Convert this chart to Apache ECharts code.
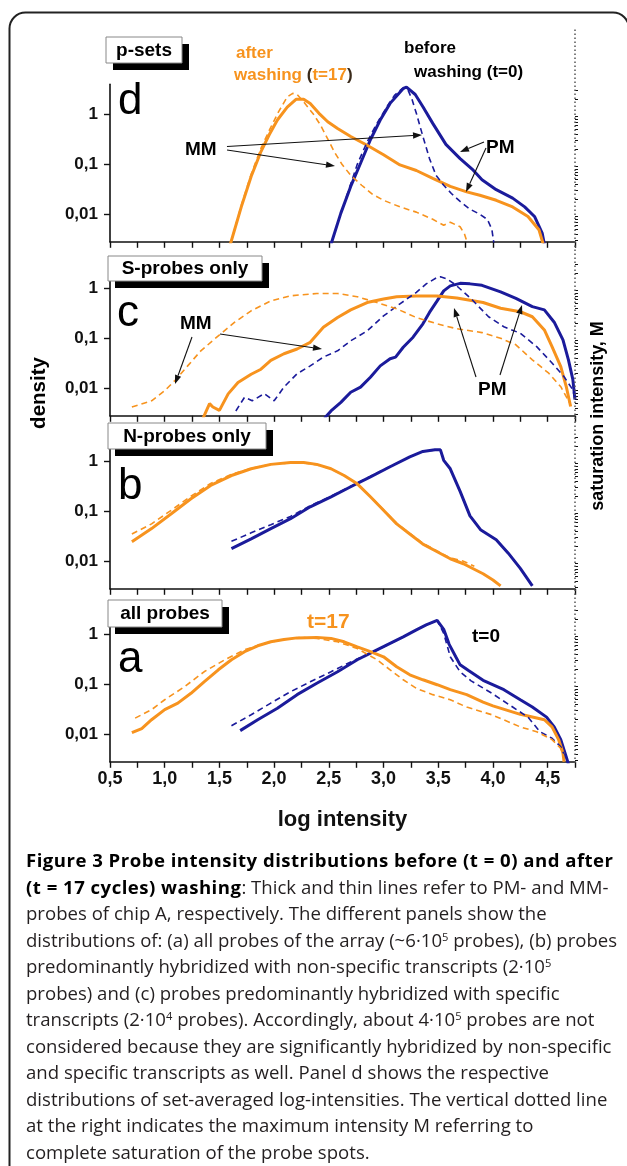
<!DOCTYPE html>
<html><head><meta charset="utf-8">
<script src="https://cdn.jsdelivr.net/npm/echarts@6/dist/echarts.min.js"></script>
<style>
html,body{margin:0;padding:0;background:#fff;}
#chart{position:absolute;left:0;top:0;width:627px;height:1166px;}
#cap{position:absolute;left:26px;top:847px;font-family:'Open Sans',sans-serif;font-size:17.5px;line-height:26.5px;color:#231f20;white-space:nowrap;transform:scaleX(1.062);transform-origin:0 0;}
#cap b{font-weight:700;color:#000;letter-spacing:0.45px;}
#cap sup{font-size:10.5px;line-height:0;vertical-align:6px;}
</style></head><body>
<div id="chart"></div>
<div id="cap"><b>Figure 3 Probe intensity distributions before (t = 0) and after</b><br><b>(t = 17 cycles) washing</b>: Thick and thin lines refer to PM- and MM-<br>probes of chip A, respectively. The different panels show the<br>distributions of: (a) all probes of the array (~6·10<sup>5</sup> probes), (b) probes<br>predominantly hybridized with non-specific transcripts (2·10<sup>5</sup><br>probes) and (c) probes predominantly hybridized with specific<br>transcripts (2·10<sup>4</sup> probes). Accordingly, about 4·10<sup>5</sup> probes are not<br>considered because they are significantly hybridized by non-specific<br>and specific transcripts as well. Panel d shows the respective<br>distributions of set-averaged log-intensities. The vertical dotted line<br>at the right indicates the maximum intensity M referring to<br>complete saturation of the probe spots.</div>
<script>
// ---------- data: [log intensity, density] ----------
const panelTitles = ['p-sets', 'S-probes only', 'N-probes only', 'all probes'];
const panelLetters = ['d', 'c', 'b', 'a'];
const xRange = [0.5, 4.75];          // M = saturation intensity at right end
const yRange = [0.0028, 4.0];        // density range (log axis)
const yTickValues = [0.01, 0.1, 1];
const yTickLabels = ['0,01', '0,1', '1'];

// panel d : p-sets
const d_PM_t0 = [[2.52,0.0025],[2.61,0.0105],[2.70,0.036],[2.79,0.105],[2.88,0.31],[2.97,0.77],[3.06,1.66],[3.14,2.63],[3.18,3.3],[3.21,3.5],[3.29,2.5],[3.36,1.42],[3.45,0.66],[3.57,0.25],[3.70,0.13],[3.82,0.076],[3.90,0.049],[4.03,0.031],[4.18,0.021],[4.29,0.014],[4.38,0.009],[4.45,0.0042],[4.47,0.0025]];
const d_MM_t0 = [[2.66,0.022],[2.76,0.1],[2.85,0.28],[2.94,0.66],[3.03,1.41],[3.10,2.4],[3.17,3.3],[3.22,3.2],[3.26,2.0],[3.30,1.05],[3.36,0.36],[3.42,0.13],[3.48,0.06],[3.55,0.038],[3.62,0.026],[3.70,0.018],[3.79,0.0126],[3.88,0.01],[3.95,0.0078],[3.99,0.005],[4.01,0.0025]];
const d_PM_t17 = [[1.60,0.0025],[1.70,0.014],[1.79,0.057],[1.88,0.18],[1.955,0.39],[2.03,0.77],[2.12,1.4],[2.20,2.0],[2.27,2.0],[2.33,1.65],[2.41,1.05],[2.49,0.71],[2.58,0.52],[2.70,0.36],[2.85,0.24],[3.00,0.155],[3.15,0.097],[3.30,0.075],[3.45,0.052],[3.61,0.036],[3.76,0.028],[3.88,0.024],[4.03,0.019],[4.18,0.014],[4.32,0.009],[4.42,0.0049],[4.46,0.0025]];
const d_MM_t17 = [[1.60,0.0025],[1.70,0.015],[1.79,0.063],[1.88,0.21],[1.96,0.5],[2.04,1.12],[2.12,2.24],[2.17,2.63],[2.21,2.5],[2.27,1.78],[2.36,1.0],[2.42,0.63],[2.48,0.355],[2.55,0.178],[2.62,0.1],[2.70,0.06],[2.80,0.038],[2.90,0.025],[3.00,0.019],[3.15,0.014],[3.30,0.011],[3.45,0.0079],[3.55,0.006],[3.61,0.0069],[3.70,0.0056],[3.74,0.004],[3.77,0.0025]];

// panel c : S-probes only
const c_PM_t0 = [[2.46,0.0025],[2.52,0.0035],[2.61,0.0052],[2.70,0.0083],[2.79,0.0105],[2.88,0.0166],[2.97,0.028],[3.06,0.039],[3.11,0.042],[3.18,0.066],[3.27,0.105],[3.36,0.195],[3.42,0.33],[3.49,0.56],[3.55,0.89],[3.61,1.12],[3.70,1.26],[3.79,1.23],[3.90,1.15],[4.07,0.85],[4.21,0.63],[4.36,0.43],[4.47,0.37],[4.56,0.21],[4.64,0.093],[4.69,0.037],[4.73,0.015],[4.75,0.0059]];
const c_MM_t0 = [[1.65,0.0035],[1.73,0.0066],[1.80,0.0056],[1.91,0.0078],[2.00,0.0056],[2.09,0.0105],[2.21,0.0195],[2.33,0.028],[2.45,0.042],[2.58,0.056],[2.70,0.089],[2.85,0.14],[3.00,0.28],[3.15,0.49],[3.30,0.83],[3.39,1.23],[3.49,1.66],[3.52,1.7],[3.58,1.55],[3.66,1.17],[3.81,0.59],[3.96,0.27],[4.10,0.17],[4.25,0.126],[4.40,0.068],[4.54,0.032],[4.65,0.017],[4.73,0.0093],[4.75,0.0059]];
const c_PM_t17 = [[1.35,0.0025],[1.41,0.0049],[1.44,0.0042],[1.50,0.0036],[1.58,0.0077],[1.67,0.013],[1.79,0.019],[1.88,0.024],[1.97,0.036],[2.09,0.049],[2.21,0.061],[2.33,0.083],[2.45,0.166],[2.58,0.26],[2.70,0.37],[2.85,0.52],[3.00,0.61],[3.12,0.68],[3.30,0.70],[3.49,0.70],[3.67,0.64],[3.91,0.52],[4.07,0.40],[4.25,0.34],[4.36,0.27],[4.47,0.147],[4.54,0.068],[4.62,0.027],[4.67,0.0108],[4.71,0.0043]];
const c_MM_t17 = [[0.70,0.0042],[0.88,0.0056],[1.00,0.0089],[1.09,0.014],[1.21,0.028],[1.33,0.056],[1.49,0.112],[1.64,0.21],[1.79,0.355],[1.97,0.56],[2.15,0.71],[2.39,0.79],[2.58,0.79],[2.76,0.68],[2.94,0.52],[3.12,0.39],[3.30,0.26],[3.49,0.195],[3.67,0.155],[3.90,0.13],[4.07,0.1],[4.21,0.074],[4.36,0.037],[4.51,0.02],[4.62,0.0107],[4.71,0.0047]];

// panel b : N-probes only
const b_PM_t0 = [[1.61,0.0178],[1.79,0.028],[1.97,0.045],[2.15,0.071],[2.33,0.123],[2.52,0.195],[2.70,0.31],[2.88,0.49],[3.06,0.78],[3.24,1.23],[3.36,1.58],[3.47,1.7],[3.52,1.7],[3.55,1.05],[3.61,0.71],[3.70,0.25],[3.79,0.081],[3.89,0.042],[4.03,0.027],[4.14,0.0145],[4.25,0.0072],[4.36,0.0032]];
const b_MM_t0 = [[1.61,0.025],[1.79,0.037],[1.97,0.054],[2.15,0.079],[2.33,0.129],[2.52,0.2],[2.70,0.316],[2.88,0.5],[3.06,0.79],[3.24,1.23],[3.36,1.58],[3.47,1.7],[3.52,1.7],[3.55,1.05],[3.61,0.71],[3.70,0.25],[3.79,0.081],[3.89,0.042],[4.03,0.027],[4.14,0.0145],[4.25,0.0072],[4.36,0.0032]];
const b_PM_t17 = [[0.70,0.0245],[0.88,0.045],[1.06,0.089],[1.24,0.178],[1.42,0.33],[1.61,0.52],[1.79,0.71],[1.97,0.87],[2.15,0.95],[2.27,0.95],[2.39,0.87],[2.52,0.71],[2.64,0.52],[2.76,0.355],[2.88,0.195],[3.00,0.105],[3.12,0.056],[3.24,0.035],[3.36,0.022],[3.49,0.0155],[3.61,0.0112],[3.73,0.0089],[3.91,0.0056],[4.00,0.0042],[4.07,0.0032]];
const b_MM_t17 = [[0.70,0.035],[0.88,0.056],[1.06,0.105],[1.24,0.2],[1.42,0.36],[1.61,0.55],[1.79,0.72],[1.97,0.87],[2.15,0.93],[2.27,0.93],[2.39,0.85],[2.52,0.71],[2.64,0.52],[2.76,0.355],[2.88,0.2],[3.00,0.107],[3.12,0.057],[3.24,0.036],[3.36,0.023],[3.49,0.016],[3.61,0.0117],[3.73,0.01],[3.83,0.0079]];

// panel a : all probes
const a_PM_t0 = [[1.69,0.0118],[1.85,0.0195],[2.03,0.033],[2.21,0.062],[2.39,0.105],[2.58,0.178],[2.76,0.31],[2.94,0.49],[3.06,0.66],[3.18,0.89],[3.30,1.23],[3.39,1.55],[3.49,1.9],[3.50,1.95],[3.55,1.26],[3.60,0.63],[3.66,0.355],[3.70,0.245],[3.78,0.186],[3.91,0.12],[4.10,0.078],[4.25,0.049],[4.36,0.035],[4.49,0.022],[4.56,0.014],[4.62,0.0078],[4.67,0.0035],[4.69,0.0025]];
const a_MM_t0 = [[1.61,0.0148],[1.79,0.0245],[1.97,0.042],[2.15,0.071],[2.33,0.112],[2.52,0.178],[2.70,0.28],[2.88,0.42],[3.00,0.56],[3.18,0.89],[3.30,1.23],[3.39,1.55],[3.49,1.9],[3.55,1.05],[3.61,0.355],[3.70,0.178],[3.80,0.117],[3.99,0.066],[4.18,0.035],[4.32,0.022],[4.43,0.0112],[4.54,0.0083],[4.62,0.0056],[4.66,0.0035]];
const a_PM_t17 = [[0.70,0.0107],[0.79,0.013],[0.88,0.0195],[1.00,0.031],[1.12,0.042],[1.24,0.066],[1.36,0.112],[1.49,0.195],[1.61,0.31],[1.73,0.45],[1.85,0.59],[1.97,0.71],[2.09,0.79],[2.21,0.85],[2.39,0.87],[2.52,0.83],[2.64,0.71],[2.76,0.56],[2.88,0.45],[3.00,0.355],[3.12,0.224],[3.24,0.155],[3.36,0.123],[3.49,0.098],[3.61,0.078],[3.76,0.062],[3.91,0.044],[4.00,0.037],[4.25,0.025],[4.47,0.0195],[4.54,0.014],[4.60,0.0078],[4.64,0.0042],[4.65,0.0028]];
const a_MM_t17 = [[0.73,0.021],[0.88,0.031],[1.00,0.049],[1.18,0.089],[1.36,0.178],[1.55,0.31],[1.73,0.49],[1.91,0.66],[2.09,0.79],[2.24,0.87],[2.39,0.83],[2.58,0.71],[2.76,0.52],[2.94,0.31],[3.06,0.195],[3.18,0.123],[3.30,0.083],[3.45,0.062],[3.61,0.049],[3.76,0.035],[3.99,0.0245],[4.25,0.014],[4.40,0.0112],[4.54,0.0078],[4.62,0.0052],[4.65,0.0035]];

const panelData = [
  [d_PM_t0, d_MM_t0, d_PM_t17, d_MM_t17],
  [c_PM_t0, c_MM_t0, c_PM_t17, c_MM_t17],
  [b_PM_t0, b_MM_t0, b_PM_t17, b_MM_t17],
  [a_PM_t0, a_MM_t0, a_PM_t17, a_MM_t17]
];

// ---------- layout & style ----------
const FONT = '"Liberation Sans", Arial, Helvetica, sans-serif';
const BLUE = '#1b1b9b', ORANGE = '#f7931e', INK = '#111';
const gridTops = [84.3, 258.3, 431.3, 604.3];
const GRID_LEFT = 110, GRID_W = 465, GRID_H = 157.5;
const LOG = v => Math.log10(v);
const yMinL = LOG(yRange[0]), yMaxL = LOG(yRange[1]);
const majorLog = yTickValues.map(LOG);
const minorLog = [];
for (let k = -3; k <= 0; k++) for (let m = 2; m <= 9; m++) {
  const v = Math.log10(m) + k;
  if (v > yMinL && v < yMaxL) minorLog.push(v);
}

const grids = [], xAxes = [], yAxes = [], series = [];
gridTops.forEach((top, i) => {
  grids.push({left: GRID_LEFT, top: top, width: GRID_W, height: GRID_H});
  xAxes.push({
    type: 'value', gridIndex: i, min: xRange[0], max: xRange[1], interval: 0.25,
    axisLine: {show: true, onZero: false, lineStyle: {color: INK, width: 1.6}},
    axisTick: {show: true, inside: false, length: 6, lineStyle: {color: INK, width: 1.4}},
    axisLabel: {show: i === 3, margin: 8, color: INK, fontWeight: 'bold', fontSize: 18, fontFamily: FONT,
      formatter: v => (Math.abs(v * 2 - Math.round(v * 2)) < 1e-6) ? v.toFixed(1).replace('.', ',') : ''},
    splitLine: {show: false},
    name: i === 3 ? 'log intensity' : '', nameLocation: 'middle', nameGap: 47,
    nameTextStyle: {color: INK, fontWeight: 'bold', fontSize: 22, fontFamily: FONT}
  });
  yAxes.push({
    type: 'value', gridIndex: i, min: yMinL, max: yMaxL,
    axisLine: {show: true, onZero: false, lineStyle: {color: INK, width: 1.6}},
    axisTick: {show: true, length: 6, customValues: majorLog, lineStyle: {color: INK, width: 1.4}},
    axisLabel: {show: true, customValues: majorLog, margin: 12, color: INK, fontWeight: 'bold', fontSize: 17, fontFamily: FONT,
      formatter: v => { const j = majorLog.findIndex(t => Math.abs(t - v) < 1e-6); return j >= 0 ? yTickLabels[j] : ''; }},
    splitLine: {show: false}
  });
  yAxes.push({
    type: 'value', gridIndex: i, min: yMinL, max: yMaxL,
    axisLine: {show: false},
    axisTick: {show: true, length: 3, customValues: minorLog, lineStyle: {color: INK, width: 1}},
    axisLabel: {show: false}, splitLine: {show: false}
  });
  const [pm0, mm0, pm17, mm17] = panelData[i];
  const mk = (arr, color, solid) => ({
    type: 'line', xAxisIndex: i, yAxisIndex: 2 * i, showSymbol: false, symbol: 'none', clip: true,
    silent: true, animation: false,
    lineStyle: solid ? {color: color, width: 3} : {color: color, width: 1.6, type: [6, 4]},
    data: arr.map(p => [p[0], LOG(p[1])])
  });
  series.push(mk(pm0, BLUE, true), mk(pm17, ORANGE, true), mk(mm0, BLUE, false), mk(mm17, ORANGE, false));
});

// overlay grid for the saturation line M
grids.push({left: GRID_LEFT, top: 28, width: GRID_W, height: 735});
xAxes.push({type: 'value', gridIndex: 4, min: xRange[0], max: xRange[1], show: false});
yAxes.push({type: 'value', gridIndex: 4, min: 0, max: 1, show: false});
series.push({type: 'line', xAxisIndex: 4, yAxisIndex: 8, showSymbol: false, symbol: 'none', silent: true,
  lineStyle: {color: '#555', width: 1.5, type: [1.5, 2.5]}, data: [[xRange[1], 0], [xRange[1], 1]]});

// ---------- annotations ----------
const G = [];
G.push({type: 'rect', z: 90, shape: {x: 9.5, y: 12.5, width: 619.5, height: 1200, r: 16}, style: {fill: 'none', stroke: '#222', lineWidth: 2}});
function txt(x, y, text, size, color, extra) {
  return Object.assign({type: 'text', x: x, y: y, z: 100,
    style: {text: text, fill: color, font: 'bold ' + size + 'px ' + FONT, align: 'left', verticalAlign: 'middle'}}, extra || {});
}
function arrow(x1, y1, x2, y2) {
  const a = Math.atan2(y2 - y1, x2 - x1), L = 9, W = 3.2;
  const bx = x2 - L * Math.cos(a), by = y2 - L * Math.sin(a);
  const px = -Math.sin(a) * W, py = Math.cos(a) * W;
  G.push({type: 'line', z: 100, shape: {x1: x1, y1: y1, x2: bx, y2: by}, style: {stroke: INK, lineWidth: 1.1}});
  G.push({type: 'polygon', z: 100, shape: {points: [[x2, y2], [bx + px, by + py], [bx - px, by - py]]}, style: {fill: INK}});
}
const boxes = [{x: 106, y: 37, w: 76, h: 26}, {x: 108, y: 256, w: 154, h: 25}, {x: 108, y: 423, w: 158, h: 26}, {x: 108, y: 600, w: 114, h: 27}];
boxes.forEach((b, i) => {
  G.push({type: 'rect', z: 95, shape: {x: b.x + 7, y: b.y + 7, width: b.w, height: b.h}, style: {fill: '#000'}});
  G.push({type: 'rect', z: 96, shape: {x: b.x, y: b.y, width: b.w, height: b.h}, style: {fill: '#fff', stroke: '#888', lineWidth: 1}});
  G.push(txt(b.x + b.w / 2, b.y + b.h / 2 + 0.5, panelTitles[i], 19, '#000', {}));
  G[G.length - 1].style.align = 'center';
});
const letterPos = [[118, 102], [117, 314], [118, 487], [118, 660]];
letterPos.forEach((p, i) => {
  G.push({type: 'text', x: p[0], y: p[1], z: 100, style: {text: panelLetters[i], fill: '#000', font: '44px ' + FONT, align: 'left', verticalAlign: 'middle'}});
});
// panel d
G.push(txt(236, 53, 'after', 17, ORANGE));
G.push({type: 'text', x: 234, y: 75, z: 100, style: {text: '{o|washing }{k|(}{o|t=17}{k|)}', align: 'left', verticalAlign: 'middle',
  rich: {o: {fill: ORANGE, font: 'bold 17px ' + FONT}, k: {fill: '#3a2a1a', font: 'bold 17px ' + FONT}}}});
G.push(txt(404, 48, 'before', 17, '#000'));
G.push(txt(414, 72, 'washing (t=0)', 17, '#000'));
G.push(txt(185, 150, 'MM', 19, '#000'));
arrow(227, 146.5, 422, 135);
arrow(227, 150, 335, 166);
G.push(txt(486, 148, 'PM', 19, '#000'));
arrow(484, 142, 460, 152);
arrow(486, 148, 466, 192);
// panel c
G.push(txt(180, 324, 'MM', 19, '#000'));
arrow(192, 337, 175, 384);
arrow(220, 334, 322, 349);
G.push(txt(478, 390, 'PM', 19, '#000'));
arrow(476, 377, 454, 308);
arrow(500, 375, 522, 305);
// panel a
G.push(txt(307, 622, 't=17', 21, ORANGE));
G.push(txt(472, 637, 't=0', 19, '#000'));
// axis titles
G.push({type: 'text', x: 39, y: 393, rotation: Math.PI / 2, z: 100,
  style: {text: 'density', fill: '#000', font: 'bold 20.5px ' + FONT, align: 'center', verticalAlign: 'middle'}});
G.push({type: 'text', x: 598.5, y: 416, rotation: Math.PI / 2, z: 100,
  style: {text: 'saturation intensity, M', fill: '#000', font: 'bold 18px ' + FONT, align: 'center', verticalAlign: 'middle'}});

const chart = echarts.init(document.getElementById('chart'), null, {renderer: 'canvas'});
chart.setOption({
  backgroundColor: '#fff', animation: false,
  grid: grids, xAxis: xAxes, yAxis: yAxes, series: series, graphic: G
});
</script></body></html>
